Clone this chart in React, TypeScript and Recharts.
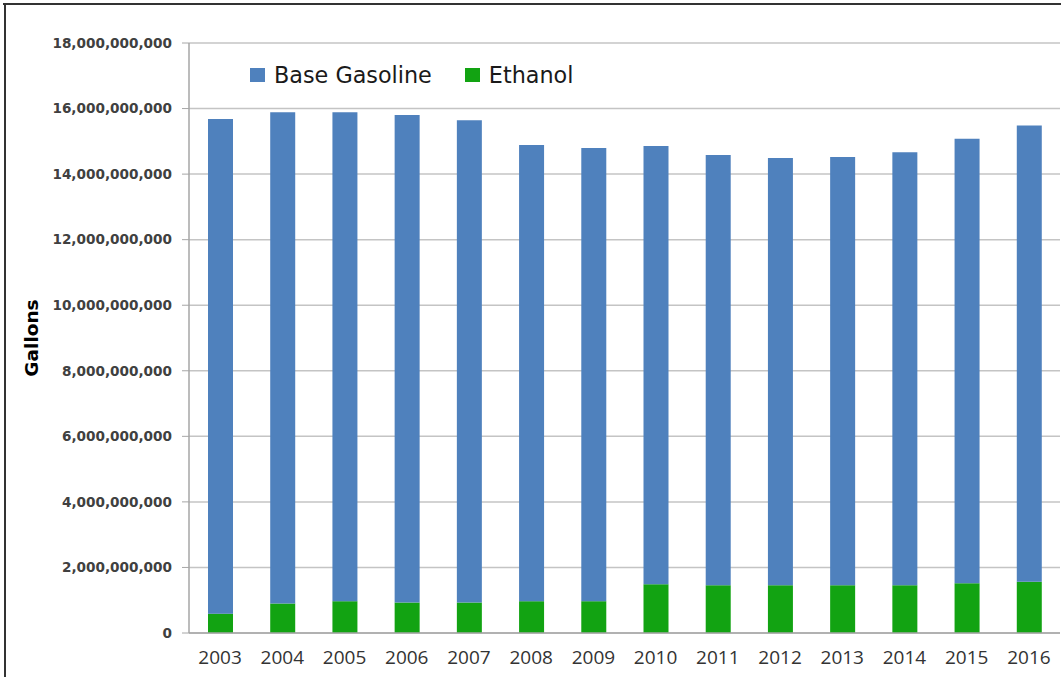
import React from 'react';
import { BarChart, Bar, XAxis, YAxis, CartesianGrid, Legend, Label } from 'recharts';

const years = ['2003', '2004', '2005', '2006', '2007', '2008', '2009', '2010', '2011', '2012', '2013', '2014', '2015', '2016'];
const totalGallons = [15.68e9, 15.89e9, 15.89e9, 15.8e9, 15.64e9, 14.89e9, 14.8e9, 14.86e9, 14.58e9, 14.49e9, 14.52e9, 14.67e9, 15.08e9, 15.48e9];
const ethanolGallons = [0.59e9, 0.9e9, 0.97e9, 0.93e9, 0.93e9, 0.97e9, 0.97e9, 1.49e9, 1.46e9, 1.46e9, 1.46e9, 1.46e9, 1.52e9, 1.56e9];
const yTicks = [0, 2e9, 4e9, 6e9, 8e9, 10e9, 12e9, 14e9, 16e9, 18e9];
const boundaryTicks = [0, 1, 2, 3, 4, 5, 6, 7, 8, 9, 10, 11, 12, 13, 14];

const baseGasoline = totalGallons.map((t, i) => Math.round((t - ethanolGallons[i]) / 1e6) * 1e6);
const data = years.map((y, i) => ({ year: y, ethanol: ethanolGallons[i], base: baseGasoline[i] }));

const BLUE = '#4f81bd';
const GREEN = '#12a312';

const legendItems = [
  { name: 'Base Gasoline', color: BLUE },
  { name: 'Ethanol', color: GREEN },
];

const renderLegend = () => (
  <div style={{ display: 'flex', alignItems: 'center', fontFamily: 'DejaVu Sans', fontSize: 22.3, color: '#1a1a1a', whiteSpace: 'nowrap' }}>
    {legendItems.map((it, i) => (
      <div key={it.name} style={{ display: 'flex', alignItems: 'center', marginRight: i === 0 ? 33 : 0 }}>
        <div style={{ width: 15, height: 14, background: it.color, marginRight: 9 }} />
        <span>{it.name}</span>
      </div>
    ))}
  </div>
);

const renderGallons = (props: any) => {
  const vb = props.viewBox || { x: 0, y: 43, width: 189, height: 590 };
  const cx = 31;
  const cy = vb.y + vb.height / 2;
  return (
    <text x={cx} y={cy} transform={`rotate(-90 ${cx} ${cy})`} textAnchor="middle" dominantBaseline="central" fontFamily="DejaVu Sans" fontWeight="bold" fontSize={18.5} fill="#000">
      Gallons
    </text>
  );
};

export default function App() {
  return (
    <div style={{ position: 'absolute', left: 0, top: 0, width: 1061, height: 677, overflow: 'hidden', background: '#fff' }}>
      <div style={{ position: 'absolute', left: 3, top: 3, width: 1070, height: 2, background: '#333' }} />
      <div style={{ position: 'absolute', left: 4, top: 3, width: 2, height: 700, background: '#333' }} />
      <div style={{ position: 'absolute', left: 0, top: 0 }}>
        <BarChart width={1061} height={677} data={data} margin={{ top: 43, right: 1, bottom: 0, left: 0 }} barSize={25}>
          <CartesianGrid vertical={false} stroke="#c4c4c4" strokeWidth={1.5} />
          <XAxis
            xAxisId="edge"
            type="number"
            domain={[0, 14]}
            ticks={boundaryTicks}
            allowDataOverflow
            height={0}
            tick={false}
            axisLine={false}
            tickLine={{ stroke: '#a6a6a6', strokeWidth: 1.2 }}
            tickSize={5}
          />
          <XAxis
            dataKey="year"
            height={44}
            tickLine={false}
            axisLine={{ stroke: '#a6a6a6', strokeWidth: 1.5 }}
            tick={{ fontFamily: 'Open Sans', fontSize: 19, fill: '#333' }}
            tickMargin={12}
            interval={0}
          />
          <YAxis
            width={189}
            domain={[0, 18e9]}
            ticks={yTicks}
            interval={0}
            tickFormatter={(v: number) => v.toLocaleString('en-US')}
            tick={{ fontFamily: 'DejaVu Sans', fontWeight: 'bold', fontSize: 13.6, fill: '#404040' }}
            tickLine={{ stroke: '#a6a6a6' }}
            tickSize={7}
            tickMargin={10}
            axisLine={{ stroke: '#a6a6a6', strokeWidth: 1.5 }}
          >
            <Label content={renderGallons} />
          </YAxis>
          <Legend
            layout="horizontal"
            verticalAlign="middle"
            align="center"
            content={renderLegend}
            wrapperStyle={{ position: 'absolute', left: 250, top: 62, width: 500, height: 26 }}
          />
          <Bar dataKey="ethanol" name="Ethanol" stackId="a" fill={GREEN} isAnimationActive={false} />
          <Bar dataKey="base" name="Base Gasoline" stackId="a" fill={BLUE} isAnimationActive={false} />
        </BarChart>
      </div>
    </div>
  );
}
